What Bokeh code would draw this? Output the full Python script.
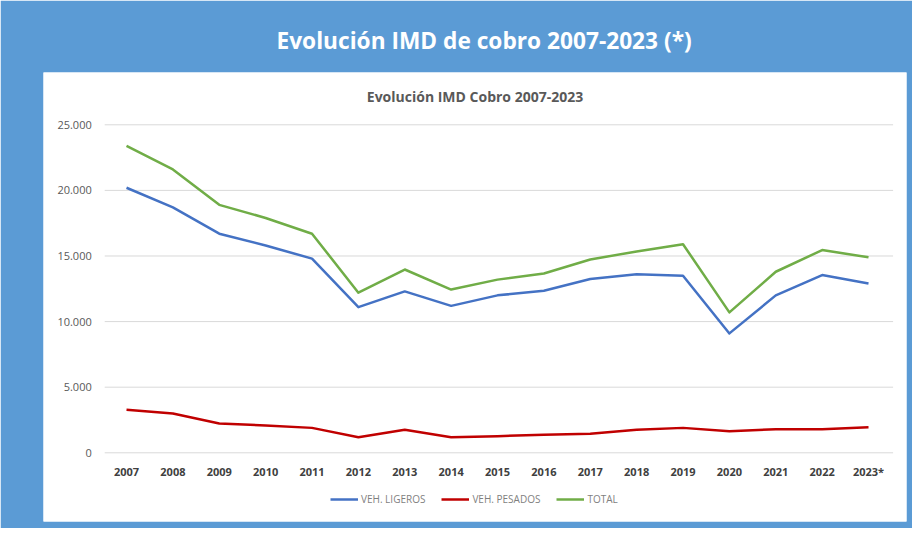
from bokeh.plotting import figure
from bokeh.models import Range1d, Legend, LegendItem, Title
from bokeh.core.properties import value
from bokeh.embed import file_html
from bokeh.resources import INLINE

years = ["2007", "2008", "2009", "2010", "2011", "2012", "2013", "2014", "2015",
         "2016", "2017", "2018", "2019", "2020", "2021", "2022", "2023*"]
ligeros = [20200, 18700, 16700, 15800, 14800, 11100, 12300, 11200, 12000,
           12350, 13250, 13600, 13500, 9100, 12000, 13550, 12900]
pesados = [3280, 3000, 2230, 2080, 1900, 1190, 1750, 1190, 1270,
           1370, 1450, 1750, 1900, 1650, 1800, 1800, 1950]
total = [23400, 21600, 18900, 17900, 16700, 12200, 13970, 12440, 13200,
         13670, 14730, 15350, 15900, 10700, 13800, 15450, 14900]
y_ticks = [0, 5000, 10000, 15000, 20000, 25000]
y_tick_labels = ["0", "5.000", "10.000", "15.000", "20.000", "25.000"]
series_names = ["VEH. LIGEROS", "VEH. PESADOS", "TOTAL"]
main_title = "Evolución IMD de cobro 2007-2023 (*)"
chart_title = "Evolución IMD Cobro 2007-2023"

BLUE_BG = "#5B9BD5"
FONT = "Open Sans"

idx = list(range(len(years)))
n = len(years)

x_range = Range1d(-1.790, 16.819)
y_range = Range1d(-5236, 28986)

p = figure(width=912, height=528, x_range=x_range, y_range=y_range,
           output_backend="svg", toolbar_location=None,
           min_border_left=43, min_border_right=6, min_border_top=72, min_border_bottom=7,
           border_fill_color=BLUE_BG, background_fill_color="white",
           outline_line_color=None)
p.xaxis.visible = False
p.yaxis.visible = False
p.xgrid.visible = False
p.ygrid.visible = False

t = Title(text=main_title, align="left", text_color="white", text_font=FONT,
          text_font_size="22.7px", text_font_style="bold", standoff=34, offset=233)
p.add_layout(t, "above")

# gridlines
gx0 = -0.47
gx1 = n - 1 + 0.53
p.segment(x0=[gx0] * len(y_ticks), x1=[gx1] * len(y_ticks), y0=y_ticks, y1=y_ticks,
          line_color="#D9D9D9", line_width=1)

# y tick labels
p.text(x=[gx0] * len(y_ticks), y=y_ticks, text=y_tick_labels, x_offset=-13,
       text_align="right", text_baseline="middle", text_font=value(FONT),
       text_font_size="11px", text_color="#595959")

# x tick labels
p.text(x=idx, y=[0] * n, text=years, y_offset=19,
       text_align="center", text_baseline="middle", text_font=value(FONT),
       text_font_size="11px", text_font_style="bold", text_color="#404040")

# inner chart title
p.text(x=[(x_range.start + x_range.end) / 2], y=[y_range.end], text=[chart_title],
       y_offset=24, text_align="center", text_baseline="middle",
       text_font=value(FONT), text_font_size="14px", text_font_style="bold",
       text_color="#595959")

colors = ["#4472C4", "#C00000", "#70AD47"]
renderers = []
for vals, c in zip([ligeros, pesados, total], colors):
    r = p.line(x=idx, y=vals, line_color=c, line_width=2.5, line_join="round")
    renderers.append(r)

legend = Legend(items=[LegendItem(label=nm, renderers=[r]) for nm, r in zip(series_names, renderers)],
                orientation="horizontal", location=(287, 12),
                glyph_width=28, glyph_height=20, label_standoff=3, spacing=16,
                padding=0, margin=0, border_line_alpha=0, background_fill_alpha=0,
                label_text_font=FONT, label_text_font_size="10px",
                label_text_color="#7F7F7F")
p.add_layout(legend)

open("out.html", "w").write(file_html(p, INLINE))
